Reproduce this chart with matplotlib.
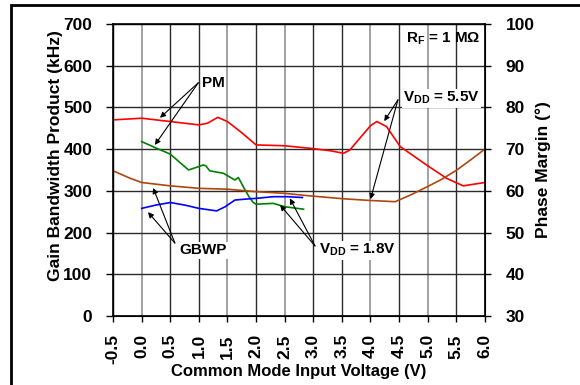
import matplotlib
matplotlib.use("Agg")
import matplotlib.pyplot as plt
from matplotlib.patches import Rectangle

plt.rcParams['font.family'] = ['Liberation Sans', 'DejaVu Sans']
plt.rcParams['font.weight'] = 'bold'
plt.rcParams['mathtext.fontset'] = 'custom'
plt.rcParams['mathtext.rm'] = 'Liberation Sans:bold'
plt.rcParams['mathtext.it'] = 'Liberation Sans:bold'
plt.rcParams['mathtext.bf'] = 'Liberation Sans:bold'

# PM, VDD = 5.5V (plotted on the left scale, 10 deg per 100 kHz, 30 deg offset)
pm55_x = [-0.5, 0.0, 0.5, 1.0, 1.15, 1.33, 1.5, 1.76, 2.0, 2.5, 2.94, 3.3, 3.53, 3.64, 3.85, 4.0, 4.11, 4.28, 4.52, 4.98, 5.33, 5.62, 6.0]
pm55_y = [470, 474, 466, 458, 462, 476, 466, 438, 410, 408, 402, 396, 390, 398, 432, 456, 466, 454, 406, 362, 330, 312, 320]

# PM, VDD = 1.8V
pm18_x = [0.0, 0.26, 0.5, 0.65, 0.82, 0.95, 1.08, 1.12, 1.19, 1.43, 1.63, 1.69, 1.78, 1.88, 1.95, 2.0, 2.3, 2.5, 2.83]
pm18_y = [418, 402, 388, 370, 350, 356, 362, 360, 348, 342, 326, 332, 309, 285, 272, 268, 270, 262, 256]

# GBWP, VDD = 5.5V
gb55_x = [-0.5, -0.2, 0.0, 0.5, 1.0, 1.5, 2.0, 2.5, 2.94, 3.53, 3.99, 4.43, 4.7, 4.98, 5.25, 5.51, 5.75, 6.0]
gb55_y = [348, 330, 320, 312, 306, 304, 298, 294, 288, 281, 277, 274, 290, 309, 328, 350, 374, 400]

# GBWP, VDD = 1.8V
gb18_x = [0.0, 0.25, 0.5, 0.75, 1.0, 1.31, 1.46, 1.63, 1.8, 2.0, 2.3, 2.55, 2.81]
gb18_y = [258, 266, 272, 266, 258, 252, 262, 278, 280, 282, 286, 286, 284]

x_ticks = [-0.5, 0.0, 0.5, 1.0, 1.5, 2.0, 2.5, 3.0, 3.5, 4.0, 4.5, 5.0, 5.5, 6.0]
gbwp_ticks = [0, 100, 200, 300, 400, 500, 600, 700]
pm_ticks = [30, 40, 50, 60, 70, 80, 90, 100]
light_grid = [0.0, 1.5, 2.5, 4.0, 5.0]   # these grid lines render lighter in the original

fig = plt.figure(figsize=(5.8, 3.85), dpi=100)
ax = fig.add_axes([0.195, 0.179, 0.641, 0.759])

ax.plot(pm55_x, pm55_y, color='#ff0000', lw=1.2)
ax.plot(pm18_x, pm18_y, color='#008000', lw=1.2)
ax.plot(gb55_x, gb55_y, color='#b0450f', lw=1.2)
ax.plot(gb18_x, gb18_y, color='#0000ff', lw=1.2)

ax.set_xlim(-0.5, 6.0)
ax.set_ylim(0, 700)
ax.set_xticks(x_ticks)
ax.set_xticklabels([f"{v:.1f}" for v in x_ticks], rotation=90, fontsize=12.5, fontweight='bold')
ax.set_yticks(gbwp_ticks)
ax.set_yticklabels([str(v) for v in gbwp_ticks], fontsize=12.5, fontweight='bold')
ax.grid(True, color='#2a2a2a', lw=1.0)
for v, gl in zip(x_ticks, ax.get_xgridlines()):
    if v in light_grid:
        gl.set_color('#9a9a9a')
        gl.set_linewidth(1.3)
ax.tick_params(axis='x', length=4, width=1, color='black', pad=9)
ax.tick_params(axis='y', length=5, width=1, color='black', pad=10)
for s in ax.spines.values():
    s.set_linewidth(1.2)
ax.set_xlabel("Common Mode Input Voltage (V)", fontsize=12, fontweight='bold', labelpad=0)
ax.set_ylabel("Gain Bandwidth Product (kHz)", fontsize=12.5, fontweight='bold')
ax.yaxis.set_label_coords(-0.135, 0.548)

ax2 = ax.twinx()
ax2.set_ylim(30, 100)
ax2.set_yticks(pm_ticks)
ax2.set_yticklabels([str(v) for v in pm_ticks], fontsize=12.5, fontweight='bold')
ax2.tick_params(length=4, width=1, color='black', pad=11)
ax2.set_ylabel("Phase Margin (°)", fontsize=12.5, fontweight='bold')
ax2.yaxis.set_label_coords(1.136, 0.5)

arrow = dict(arrowstyle='-|>', lw=0.8, color='black', mutation_scale=8, shrinkA=0, shrinkB=0)

def callout(text, tail, heads, text_xy):
    ax.text(text_xy[0], text_xy[1], text, fontsize=11, fontweight='bold', ha='left', va='center',
            bbox=dict(facecolor='white', edgecolor='none', pad=1))
    for h in heads:
        ax.annotate("", xy=h, xytext=tail, arrowprops=arrow)

callout("PM", (0.99, 559), [(0.32, 475), (0.23, 410)], (1.06, 559))
callout("GBWP", (0.58, 175), [(0.2, 307), (0.11, 249)], (0.65, 158))
callout(r"V$_{\mathrm{DD}}$ = 5.5V", (4.48, 518), [(4.24, 467), (4.0, 280)], (4.57, 522))
callout(r"V$_{\mathrm{DD}}$ = 1.8V", (3.03, 168), [(2.42, 266), (2.59, 282)], (3.1, 158))
ax.text(4.62, 664, r"R$_{\mathrm{F}}$ = 1 M$\Omega$", fontsize=11, fontweight='bold', ha='left', va='center')

fig.patches.append(Rectangle((11 / 580, -0.1), 2.0, 0.987 + 0.1, transform=fig.transFigure,
                             fill=False, edgecolor='black', lw=2.0))

fig.savefig("out.png", dpi=100)
